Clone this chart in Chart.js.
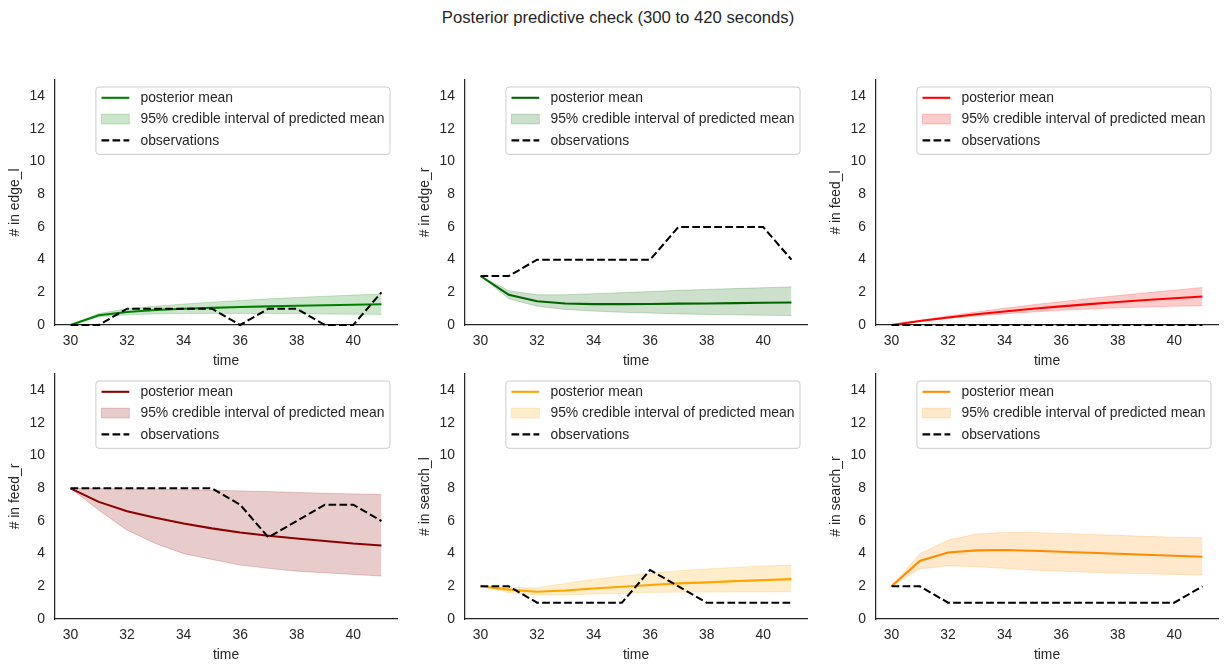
<!DOCTYPE html>
<html>
<head>
<meta charset="utf-8">
<script src="https://cdn.jsdelivr.net/npm/chart.js@4.4.1/dist/chart.umd.min.js"></script>
<style>
  html, body { margin: 0; padding: 0; background: #ffffff; }
  #wrap { position: relative; width: 1227px; height: 672px; background: #ffffff; overflow: hidden; }
  #suptitle { position: absolute; left: 0; top: 8px; width: 1236px; text-align: center;
    font-family: "Liberation Sans", Arial, sans-serif; font-size: 16.7px; line-height: 20px; color: #262626; }
  canvas { position: absolute; }
</style>
</head>
<body>
<div id="wrap">
  <div id="suptitle">Posterior predictive check (300 to 420 seconds)</div>
</div>
<script>
// ---------------- data ----------------
const timeSteps = [30, 31, 32, 33, 34, 35, 36, 37, 38, 39, 40, 41];
const xTicks = [30, 32, 34, 36, 38, 40];
const yTicks = [0, 2, 4, 6, 8, 10, 12, 14];

const edgeLMean  = [0, 0.6, 0.8, 0.92, 1.0, 1.05, 1.1, 1.14, 1.18, 1.21, 1.24, 1.27];
const edgeLLower = [0, 0.5, 0.62, 0.68, 0.7, 0.71, 0.71, 0.7, 0.69, 0.67, 0.66, 0.65];
const edgeLUpper = [0, 0.7, 1.0, 1.15, 1.28, 1.4, 1.5, 1.6, 1.68, 1.76, 1.83, 1.9];
const edgeLObs   = [0, 0, 1, 1, 1, 1, 0, 1, 1, 0, 0, 2];

const edgeRMean  = [3, 1.85, 1.45, 1.32, 1.28, 1.28, 1.29, 1.31, 1.32, 1.34, 1.36, 1.38];
const edgeRLower = [3, 1.6, 1.15, 0.95, 0.85, 0.78, 0.73, 0.68, 0.65, 0.62, 0.6, 0.58];
const edgeRUpper = [3, 2.1, 1.85, 1.85, 1.92, 1.98, 2.05, 2.12, 2.18, 2.23, 2.28, 2.33];
const edgeRObs   = [3, 3, 4, 4, 4, 4, 4, 6, 6, 6, 6, 4];

const feedLMean  = [0, 0.25, 0.46, 0.66, 0.83, 0.99, 1.14, 1.28, 1.41, 1.53, 1.64, 1.74];
const feedLLower = [0, 0.22, 0.4, 0.55, 0.68, 0.8, 0.9, 0.98, 1.05, 1.1, 1.15, 1.18];
const feedLUpper = [0, 0.29, 0.55, 0.8, 1.03, 1.24, 1.43, 1.62, 1.8, 1.97, 2.13, 2.3];
const feedLObs   = [0, 0, 0, 0, 0, 0, 0, 0, 0, 0, 0, 0];

const feedRMean  = [8, 7.17, 6.6, 6.2, 5.85, 5.55, 5.3, 5.1, 4.93, 4.78, 4.62, 4.5];
const feedRLower = [8, 6.66, 5.44, 4.63, 4.0, 3.65, 3.3, 3.1, 2.93, 2.83, 2.73, 2.63];
const feedRUpper = [8, 8, 7.97, 7.95, 7.92, 7.88, 7.84, 7.8, 7.75, 7.7, 7.66, 7.62];
const feedRObs   = [8, 8, 8, 8, 8, 8, 7, 5, 6, 7, 7, 6];

const searchLMean  = [2, 1.8, 1.67, 1.75, 1.87, 1.97, 2.08, 2.18, 2.24, 2.32, 2.38, 2.44];
const searchLLower = [2, 1.61, 1.47, 1.47, 1.53, 1.56, 1.63, 1.65, 1.65, 1.66, 1.66, 1.67];
const searchLUpper = [2, 1.94, 1.9, 2.18, 2.43, 2.63, 2.79, 2.95, 3.06, 3.16, 3.24, 3.3];
const searchLObs   = [2, 2, 1, 1, 1, 1, 3, 2, 1, 1, 1, 1];

const searchRMean  = [2, 3.55, 4.07, 4.2, 4.22, 4.18, 4.12, 4.06, 4.0, 3.93, 3.87, 3.81];
const searchRLower = [2, 3.06, 3.26, 3.2, 3.1, 3.0, 2.93, 2.86, 2.81, 2.77, 2.73, 2.69];
const searchRUpper = [2, 4.0, 4.83, 5.2, 5.3, 5.3, 5.24, 5.18, 5.12, 5.06, 5.01, 4.97];
const searchRObs   = [2, 2, 1, 1, 1, 1, 1, 1, 1, 1, 1, 2];

const seriesLabels = ['posterior mean', '95% credible interval of predicted mean', 'observations'];

// ---------------- panels & layout ----------------
const panels = [
  { name: 'edge_l',   rgb: [0, 128, 0],   mean: edgeLMean,   lower: edgeLLower,   upper: edgeLUpper,   obs: edgeLObs,   col: 0, row: 0 },
  { name: 'edge_r',   rgb: [0, 100, 0],   mean: edgeRMean,   lower: edgeRLower,   upper: edgeRUpper,   obs: edgeRObs,   col: 1, row: 0 },
  { name: 'feed_l',   rgb: [255, 0, 0],   mean: feedLMean,   lower: feedLLower,   upper: feedLUpper,   obs: feedLObs,   col: 2, row: 0 },
  { name: 'feed_r',   rgb: [139, 0, 0],   mean: feedRMean,   lower: feedRLower,   upper: feedRUpper,   obs: feedRObs,   col: 0, row: 1 },
  { name: 'search_l', rgb: [255, 165, 0], mean: searchLMean, lower: searchLLower, upper: searchLUpper, obs: searchLObs, col: 1, row: 1 },
  { name: 'search_r', rgb: [255, 140, 0], mean: searchRMean, lower: searchRLower, upper: searchRUpper, obs: searchRObs, col: 2, row: 1 },
];

const spineX = [55, 465, 876];
const axTop = [80, 374];
const AX_W = 342, AX_H = 245;
const Y_W = 55, X_H = 50, PAD_T = 22, PAD_R = 15;
const FONT = '"Liberation Sans", Arial, sans-serif';
const FS = 13.9;
const TXT = '#262626';
const LW = 2.08;
const DASH = [7.7, 3.3];

Chart.defaults.font.family = FONT;
Chart.defaults.color = TXT;

const rgba = (c, a) => `rgba(${c[0]},${c[1]},${c[2]},${a})`;
const pts = arr => timeSteps.map((t, i) => ({ x: t, y: arr[i] }));

const legendPlugin = {
  id: 'mplLegend',
  afterDraw(chart) {
    const { ctx, chartArea } = chart;
    const items = chart.data.datasets.filter(d => d.legendKind);
    ctx.save();
    ctx.font = `${FS}px ${FONT}`;
    let maxW = 0;
    items.forEach(d => { maxW = Math.max(maxW, ctx.measureText(d.label).width); });
    const pad = 5.6, hl = 27.8, hp = 11.1;
    const w = pad + hl + hp + maxW + pad;
    const h = 67.3;
    const x1 = chartArea.right - 7 - w;
    const y1 = chartArea.top + 7;
    const r = 3;
    ctx.beginPath();
    ctx.moveTo(x1 + r, y1);
    ctx.lineTo(x1 + w - r, y1);
    ctx.arcTo(x1 + w, y1, x1 + w, y1 + r, r);
    ctx.lineTo(x1 + w, y1 + h - r);
    ctx.arcTo(x1 + w, y1 + h, x1 + w - r, y1 + h, r);
    ctx.lineTo(x1 + r, y1 + h);
    ctx.arcTo(x1, y1 + h, x1, y1 + h - r, r);
    ctx.lineTo(x1, y1 + r);
    ctx.arcTo(x1, y1, x1 + r, y1, r);
    ctx.closePath();
    ctx.fillStyle = 'rgba(255,255,255,0.8)';
    ctx.fill();
    ctx.strokeStyle = '#cccccc';
    ctx.lineWidth = 1;
    ctx.stroke();
    items.forEach((d, i) => {
      const cy = y1 + 10.8 + i * 21.3;
      const hx = x1 + pad;
      if (d.legendKind === 'patch') {
        ctx.fillStyle = d.backgroundColor;
        ctx.fillRect(hx, cy - 4.9, hl, 9.8);
        ctx.strokeStyle = d.borderColor;
        ctx.lineWidth = 1;
        ctx.strokeRect(hx, cy - 4.9, hl, 9.8);
      } else {
        ctx.beginPath();
        ctx.setLineDash(d.legendKind === 'dash' ? DASH : []);
        ctx.strokeStyle = d.borderColor;
        ctx.lineWidth = LW;
        ctx.moveTo(hx, cy);
        ctx.lineTo(hx + hl, cy);
        ctx.stroke();
        ctx.setLineDash([]);
      }
      ctx.fillStyle = TXT;
      ctx.textBaseline = 'middle';
      ctx.textAlign = 'left';
      ctx.fillText(d.label, x1 + pad + hl + hp, cy + 0.5);
    });
    ctx.restore();
  }
};

const wrap = document.getElementById('wrap');
panels.forEach(p => {
  const cv = document.createElement('canvas');
  const cw = Y_W + AX_W + PAD_R, ch = PAD_T + AX_H + X_H;
  cv.width = cw; cv.height = ch;
  cv.style.width = cw + 'px'; cv.style.height = ch + 'px';
  cv.style.left = (spineX[p.col] - Y_W) + 'px';
  cv.style.top = (axTop[p.row] - PAD_T) + 'px';
  wrap.appendChild(cv);

  const band = rgba(p.rgb, 0.2);
  const solid = rgba(p.rgb, 1);
  new Chart(cv, {
    type: 'line',
    data: {
      datasets: [
        { label: seriesLabels[0], legendKind: 'line', data: pts(p.mean), borderColor: solid, borderWidth: LW,
          pointRadius: 0, tension: 0, fill: false, order: 1, clip: false },
        { label: seriesLabels[1], legendKind: 'patch', data: pts(p.upper), borderColor: band, backgroundColor: band,
          borderWidth: 1, pointRadius: 0, tension: 0, fill: '+1', order: 3 },
        { label: '', data: pts(p.lower), borderColor: band, backgroundColor: band,
          borderWidth: 1, pointRadius: 0, tension: 0, fill: false, order: 2 },
        { label: seriesLabels[2], legendKind: 'dash', data: pts(p.obs), borderColor: '#000000', borderWidth: LW,
          borderDash: DASH, pointRadius: 0, tension: 0, fill: false, order: 0, clip: false },
      ]
    },
    options: {
      responsive: false,
      animation: false,
      devicePixelRatio: 1,
      layout: { padding: { left: 0, top: PAD_T, right: PAD_R, bottom: 0 } },
      plugins: { legend: { display: false }, tooltip: { enabled: false }, title: { display: false } },
      scales: {
        x: {
          type: 'linear', min: 29.45, max: 41.55,
          grid: { display: false, drawTicks: false },
          border: { display: true, color: TXT, width: 1.25 },
          ticks: { color: TXT, font: { size: FS }, padding: 8, autoSkip: false, maxRotation: 0 },
          afterBuildTicks: s => { s.ticks = xTicks.map(v => ({ value: v })); },
          afterFit: s => { s.height = X_H; },
          title: { display: true, text: 'time', color: TXT, font: { size: FS }, padding: { top: 0, bottom: 5 } }
        },
        y: {
          type: 'linear', min: 0, max: 15,
          grid: { display: false, drawTicks: false },
          border: { display: true, color: TXT, width: 1.25 },
          ticks: { color: TXT, font: { size: FS }, padding: 10, autoSkip: false },
          afterBuildTicks: s => { s.ticks = yTicks.map(v => ({ value: v })); },
          afterFit: s => { s.width = Y_W; },
          title: { display: true, text: '# in ' + p.name, color: TXT, font: { size: FS }, padding: { top: 7, bottom: 0 } }
        }
      }
    },
    plugins: [legendPlugin]
  });
});
</script>
</body>
</html>
